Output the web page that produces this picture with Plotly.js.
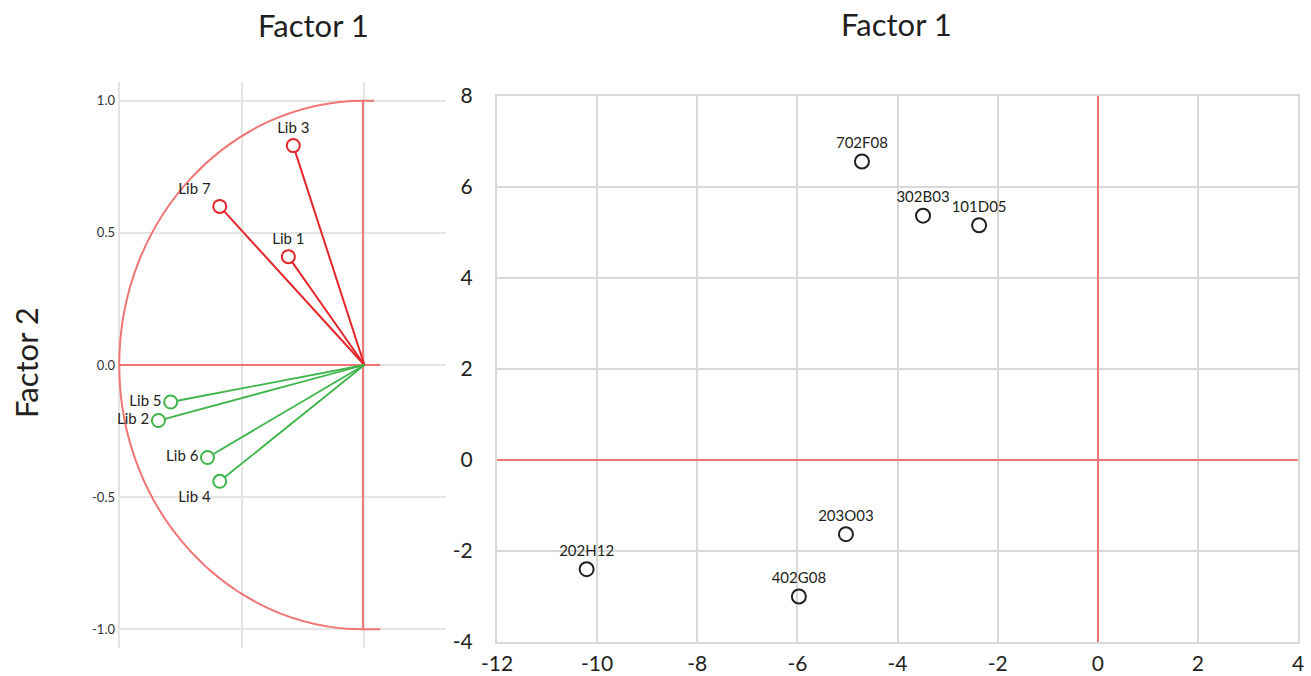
<!DOCTYPE html>
<html>
<head>
<meta charset="utf-8">
<script src="https://cdn.plot.ly/plotly-3.0.1.min.js"></script>
<style>html,body{margin:0;padding:0;background:#fff;}#chart{width:1311px;height:676px;}</style>
</head>
<body>
<div id="chart"></div>
<script>
// Left panel: variable loadings (correlation circle)
const redLibs = ['Lib 3', 'Lib 7', 'Lib 1'];
const redF1 = [-0.29, -0.59, -0.31];
const redF2 = [0.83, 0.60, 0.41];
const redPos = ['top center', 'top left', 'top center'];

const greenLibs = ['Lib 5', 'Lib 2', 'Lib 6', 'Lib 4'];
const greenF1 = [-0.79, -0.84, -0.64, -0.59];
const greenF2 = [-0.14, -0.21, -0.35, -0.44];
const greenPos = ['middle left', 'middle left', 'middle left', 'bottom left'];

const leftTickVals = [1.0, 0.5, 0.0, -0.5, -1.0];
const leftTickText = ['1.0', '0.5', '0.0', '-0.5', '-1.0'];

// Right panel: clone scores
const clones = ['702F08', '302B03', '101D05', '203O03', '202H12', '402G08'];
const cloneF1 = [-4.71, -3.49, -2.37, -5.03, -10.21, -5.97];
const cloneF2 = [6.56, 5.37, 5.16, -1.63, -2.40, -3.00];

const rightXTicks = [-12, -10, -8, -6, -4, -2, 0, 2, 4];
const rightYTicks = [-4, -2, 0, 2, 4, 6, 8];

const FONT = 'Lato, "Open Sans", sans-serif';
const RED = '#e5262b';
const GREEN = '#3fb54b';
const AXRED = '#f07676';
const INK = '#231f20';

function vectors(xs, ys) {
  const vx = [], vy = [];
  xs.forEach((x, i) => { vx.push(0, x, null); vy.push(0, ys[i], null); });
  return {vx, vy};
}
const rv = vectors(redF1, redF2);
const gv = vectors(greenF1, greenF2);

const traces = [
  {x: rv.vx, y: rv.vy, mode: 'lines', line: {color: RED, width: 2}, xaxis: 'x', yaxis: 'y', hoverinfo: 'skip'},
  {x: gv.vx, y: gv.vy, mode: 'lines', line: {color: GREEN, width: 1.8}, xaxis: 'x', yaxis: 'y', hoverinfo: 'skip'},
  {x: redF1, y: redF2, text: redLibs, mode: 'markers+text', textposition: redPos,
   textfont: {family: FONT, size: 15, color: INK},
   marker: {symbol: 'circle', size: 13, color: '#ffffff', line: {color: RED, width: 2}}, xaxis: 'x', yaxis: 'y'},
  {x: greenF1, y: greenF2, text: greenLibs, mode: 'markers+text', textposition: greenPos,
   textfont: {family: FONT, size: 15, color: INK},
   marker: {symbol: 'circle', size: 13, color: '#ffffff', line: {color: GREEN, width: 2}}, xaxis: 'x', yaxis: 'y'},
  {x: cloneF1, y: cloneF2, text: clones, mode: 'markers+text', textposition: 'top center',
   textfont: {family: FONT, size: 15, color: INK},
   marker: {symbol: 'circle-open', size: 14, color: INK, line: {color: INK, width: 2}}, xaxis: 'x2', yaxis: 'y2'}
];

const k = 0.5523;
const layout = {
  width: 1311, height: 676,
  margin: {l: 0, r: 0, t: 0, b: 0},
  paper_bgcolor: '#ffffff', plot_bgcolor: '#ffffff',
  showlegend: false,
  font: {family: FONT, color: INK},
  xaxis: {domain: [118/1311, 446/1311], range: [-1.005, 0.333], tickvals: [-1, -0.5, 0], showticklabels: false,
          showgrid: true, gridcolor: '#e4e4e4', gridwidth: 2, zeroline: false, showline: false, ticks: '', fixedrange: true},
  yaxis: {domain: [1 - 648/676, 1 - 82/676], range: [-1.0707, 1.0707], tickvals: leftTickVals, ticktext: leftTickText,
          tickfont: {family: FONT, size: 13, color: '#333333'}, ticklabelstandoff: 2,
          showgrid: true, gridcolor: '#e4e4e4', gridwidth: 2, zeroline: false, showline: false, ticks: '', fixedrange: true},
  xaxis2: {domain: [497/1311, 1298/1311], range: [-12, 4], tickvals: rightXTicks, ticktext: rightXTicks.map(String),
           tickfont: {family: FONT, size: 21, color: INK}, ticklabelstandoff: 2,
           showgrid: true, gridcolor: '#dad7d7', gridwidth: 2, zeroline: true, zerolinecolor: AXRED, zerolinewidth: 2,
           showline: true, mirror: true, linecolor: '#dad7d7', linewidth: 2, ticks: '', anchor: 'y2', fixedrange: true},
  yaxis2: {domain: [1 - 642/676, 1 - 96/676], range: [-4, 8], tickvals: rightYTicks, ticktext: rightYTicks.map(String),
           tickfont: {family: FONT, size: 21, color: INK}, ticklabelstandoff: 18,
           showgrid: true, gridcolor: '#dad7d7', gridwidth: 2, zeroline: true, zerolinecolor: AXRED, zerolinewidth: 2,
           showline: true, mirror: true, linecolor: '#dad7d7', linewidth: 2, ticks: '', anchor: 'x2', fixedrange: true},
  shapes: [
    {type: 'path', xref: 'x', yref: 'y', layer: 'between',
     path: `M 0.04,1 L 0,1 C ${-k},1 -1,${k} -1,0 C -1,${-k} ${-k},-1 0,-1 L 0.065,-1`,
     line: {color: AXRED, width: 2}},
    {type: 'line', xref: 'x', yref: 'y', x0: -1, x1: 0.065, y0: 0, y1: 0, layer: 'between', line: {color: AXRED, width: 2}},
    {type: 'line', xref: 'x', yref: 'y', x0: -0.006, x1: -0.006, y0: -1, y1: 1, layer: 'between', line: {color: AXRED, width: 2}}
  ],
  annotations: [
    {text: 'Factor 1', xref: 'paper', yref: 'paper', x: 313/1311, y: 1 - 25/676, xanchor: 'center', yanchor: 'middle',
     showarrow: false, font: {family: FONT, size: 31, color: INK}},
    {text: 'Factor 1', xref: 'paper', yref: 'paper', x: 896/1311, y: 1 - 24/676, xanchor: 'center', yanchor: 'middle',
     showarrow: false, font: {family: FONT, size: 31, color: INK}},
    {text: 'Factor 2', xref: 'paper', yref: 'paper', x: 26/1311, y: 1 - 362/676, xanchor: 'center', yanchor: 'middle',
     textangle: -90, showarrow: false, font: {family: FONT, size: 31, color: INK}}
  ]
};

Plotly.newPlot('chart', traces, layout, {displayModeBar: false, staticPlot: true});
</script>
</body>
</html>
